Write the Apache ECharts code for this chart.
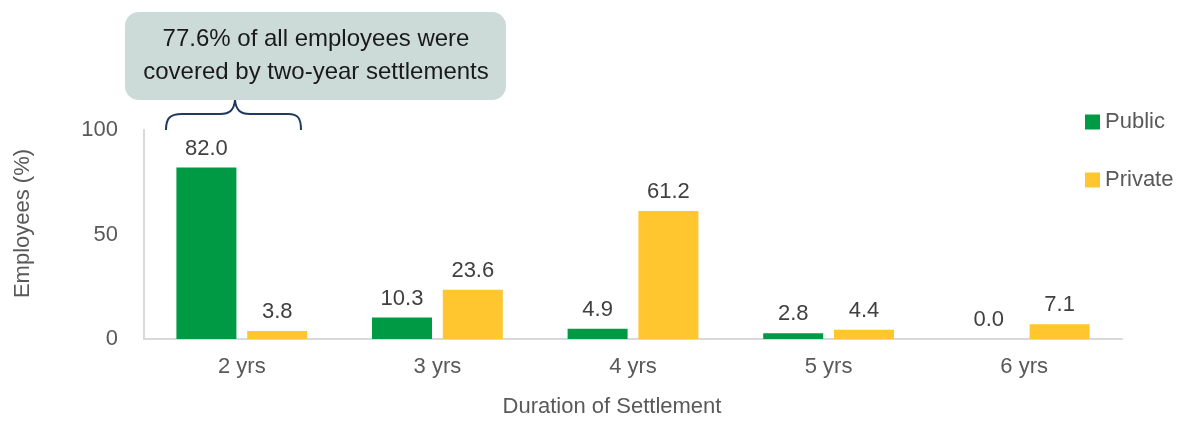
<!DOCTYPE html>
<html><head><meta charset="utf-8">
<script src="https://cdn.jsdelivr.net/npm/echarts@6/dist/echarts.min.js"></script>
<style>html,body{margin:0;padding:0;background:#fff}#c{width:1183px;height:423px}</style>
</head><body><div id="c"></div>
<script>
var categories = ['2 yrs', '3 yrs', '4 yrs', '5 yrs', '6 yrs'];
var publicValues = [82.0, 10.3, 4.9, 2.8, 0.0];
var privateValues = [3.8, 23.6, 61.2, 4.4, 7.1];
var yTicks = [0, 50, 100];
var annotationText = '77.6% of all employees were\ncovered by two-year settlements';

var FONT = '"Liberation Sans Narrow", "Arial Narrow", "Liberation Sans", sans-serif';
var chart = echarts.init(document.getElementById('c'));
var labelCfg = {show: true, position: 'top', distance: 8, fontFamily: FONT, fontSize: 22, color: '#404040',
  formatter: function(p){ return p.value.toFixed(1); }};
var braceStyle = {fill: 'none', stroke: '#1F3A5A', lineWidth: 2};
function bez(x1,y1,cx1,cy1,cx2,cy2,x2,y2){
  return {type: 'bezierCurve', shape: {x1:x1,y1:y1,cpx1:cx1,cpy1:cy1,cpx2:cx2,cpy2:cy2,x2:x2,y2:y2}, style: braceStyle};
}
chart.setOption({
  animation: false,
  textStyle: {fontFamily: FONT},
  grid: {left: 144, right: 61, top: 130, bottom: 79},
  legend: {
    orient: 'vertical', left: 1080, top: 106, itemWidth: 15, itemHeight: 15, itemGap: 36,
    icon: 'rect', textStyle: {fontFamily: FONT, fontSize: 22, color: '#595959'},
    data: ['Public', 'Private']
  },
  xAxis: {
    type: 'category', data: categories,
    axisLine: {lineStyle: {color: '#D9D9D9', width: 2}}, axisTick: {show: false},
    axisLabel: {fontFamily: FONT, fontSize: 22, color: '#595959', margin: 17},
    name: 'Duration of Settlement', nameLocation: 'middle', nameGap: 57,
    nameTextStyle: {fontFamily: FONT, fontSize: 22, color: '#595959', padding: [0, 42, 0, 0]}
  },
  yAxis: {
    type: 'value', min: yTicks[0], max: yTicks[yTicks.length-1], interval: yTicks[1]-yTicks[0],
    axisLine: {show: true, lineStyle: {color: '#D9D9D9', width: 2}}, axisTick: {show: false},
    splitLine: {show: false},
    axisLabel: {fontFamily: FONT, fontSize: 22, color: '#595959', margin: 26},
    name: 'Employees (%)', nameLocation: 'middle', nameGap: 110, nameRotate: 90,
    nameTextStyle: {fontFamily: FONT, fontSize: 22, color: '#595959', padding: [0, 0, 0, 22]}
  },
  series: [
    {name: 'Public', type: 'bar', data: publicValues, barWidth: 60, barGap: '18%',
     itemStyle: {color: '#009A44'}, label: labelCfg},
    {name: 'Private', type: 'bar', data: privateValues, barWidth: 60, barGap: '18%',
     itemStyle: {color: '#FFC62F'}, label: labelCfg}
  ],
  graphic: [
    {type: 'rect', shape: {x: 125, y: 12, width: 381, height: 88, r: 14}, style: {fill: '#CCDBD8'}},
    {type: 'text', x: 316, y: 56, style: {text: annotationText, fontFamily: FONT, fontSize: 24,
      lineHeight: 33, fill: '#1a1a1a', align: 'center', verticalAlign: 'middle'}},
    bez(166,130, 166,118, 170,114, 182,114),
    {type: 'line', shape: {x1:182,y1:114,x2:220,y2:114}, style: braceStyle},
    bez(220,114, 230,114, 234,110, 235,100),
    bez(235,100, 236,110, 240,114, 250,114),
    {type: 'line', shape: {x1:250,y1:114,x2:288,y2:114}, style: braceStyle},
    bez(288,114, 298,114, 301,118, 301,130)
  ]
});
</script></body></html>
